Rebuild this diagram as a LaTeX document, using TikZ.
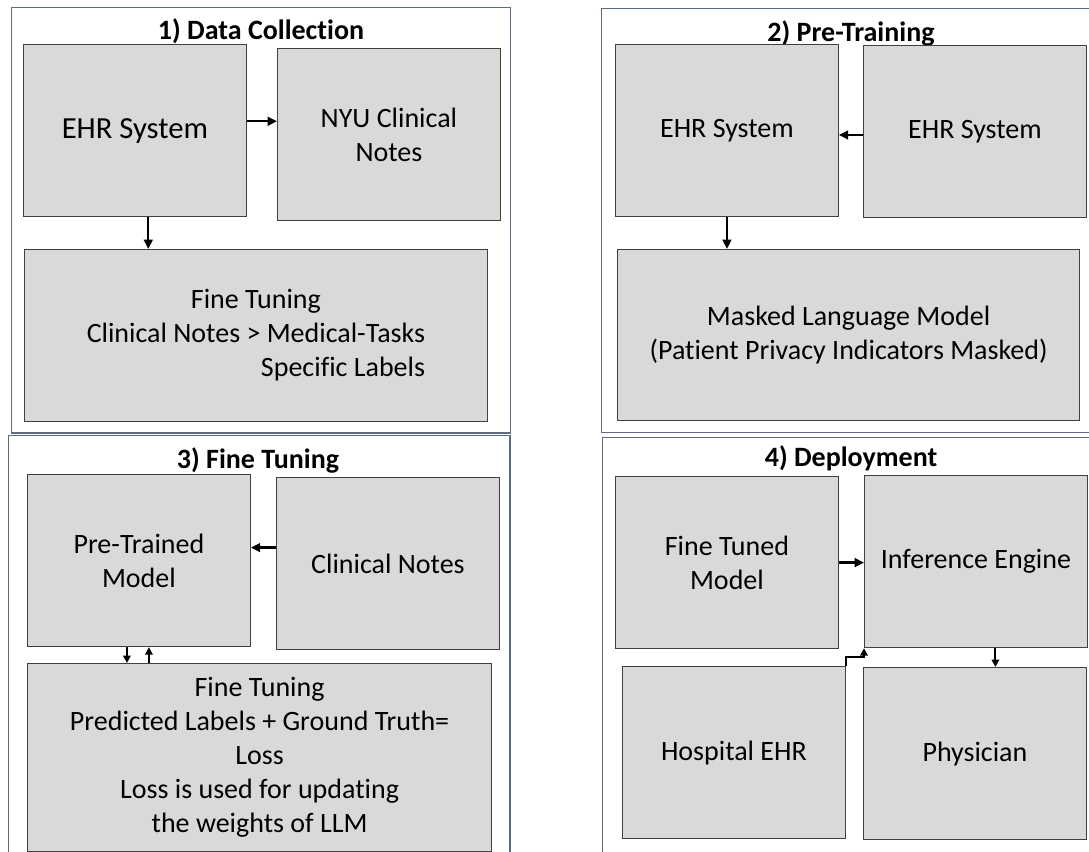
\documentclass[tikz,border=0pt]{standalone}
\usepackage{fontspec}
\setmainfont{Carlito}[Ligatures=NoCommon]
\usepackage{tikz}
\usetikzlibrary{arrows.meta,positioning}

\definecolor{framegray}{RGB}{92,106,132}
\definecolor{cellgray}{RGB}{217,217,217}
\definecolor{celledge}{RGB}{64,64,64}

\begin{document}
\begin{tikzpicture}[x=0.75pt, y=-0.75pt, every node/.style={align=center, font=\fontsize{21}{25.5}\selectfont}]
\tikzset{
  panel/.style={draw=framegray, line width=1.1pt, fill=white, anchor=north west, inner sep=0pt},
  paneltitle/.style={font=\fontsize{21}{25.5}\selectfont\bfseries, anchor=base, inner sep=0pt},
  cell/.style={draw=celledge, line width=0.9pt, fill=cellgray, anchor=north west, minimum width=167pt, minimum height=129pt, inner sep=2pt},
  widecell/.style={cell, minimum width=347pt},
  flow/.style={-{Triangle[length=7pt,width=6.5pt]}, line width=1.8pt, black},
  flowsmall/.style={-{Triangle[length=5.5pt,width=5.5pt]}, line width=1.6pt, black}
}
\useasboundingbox (0,0) rectangle (1089,852);
\fill[white] (0,0) rectangle (1089,852);
% panels
\node[panel, minimum width=374pt, minimum height=319pt] (p1) at (11,7) {};
\node[panel, minimum width=374pt, minimum height=318pt] (p2) at (601,8) {};
\node[panel, minimum width=376pt, minimum height=326pt] (p3) at (8,435) {};
\node[panel, minimum width=374pt, minimum height=325pt] (p4) at (602,437) {};
\node[paneltitle] (t1) at (261,40) {1) Data Collection};
\node[paneltitle] (t2) at (851,42) {2) Pre-Training};
\node[paneltitle] (t3) at (258,468) {3) Fine Tuning};
\node[paneltitle] (t4) at (851,466) {4) Deployment};

% 1) data collection
\node[cell, font=\fontsize{23}{27}\selectfont] (ehr1) at (23,44) {EHR System};
\node[cell] (nyu) at (277,48) {NYU Clinical\\Notes};
\node[widecell] (ft1) at (24,249) {Fine Tuning\\Clinical Notes > Medical-Tasks\\\hphantom{Clinical Notes > Medical-Tasks}\llap{Specific Labels}};
\draw[flow] ([yshift=7pt]ehr1.east) -- ([yshift=7pt]ehr1.east -| nyu.west);
\draw[flow] ([xshift=10pt]ehr1.south) -- ([xshift=10pt]ehr1.south |- ft1.north);

% 2) pre-training
\node[cell] (ehrL) at (615,44) {EHR System};
\node[cell] (ehrR) at (863,45) {EHR System};
\node[widecell, minimum width=346.5pt, minimum height=128pt] (mlm) at (617,249) {Masked Language Model\\(Patient Privacy Indicators Masked)};
\draw[flow] ([yshift=-2.5pt]ehrR.west) -- ([yshift=-2.5pt]ehrR.west -| ehrL.east);
\draw[flow] (ehrL.south) -- (ehrL.south |- mlm.north);

% 3) fine tuning
\node[cell] (ptm) at (27,474) {Pre-Trained\\Model};
\node[cell] (cn) at (276,477) {Clinical Notes};
\node[widecell, minimum width=348pt, minimum height=141pt] (ft3) at (27,663) {Fine Tuning\\Predicted Labels + Ground Truth=\\Loss\\Loss is used for updating\\the weights of LLM};
\draw[flow] ([yshift=12pt]cn.west) -- ([yshift=12pt]cn.west -| ptm.east);
\draw[flowsmall] ([xshift=-9pt]ptm.south) -- ([xshift=-9pt]ptm.south |- ft3.north);
\draw[flowsmall] ([xshift=7.5pt]ft3.north -| ptm.south) -- ([xshift=7.5pt]ptm.south);

% 4) deployment
\node[cell] (ftm) at (615,476) {Fine Tuned\\Model};
\node[cell] (ie) at (864,475) {Inference Engine};
\node[cell] (hosp) at (622,666) {Hospital EHR};
\node[cell] (phys) at (863,667) {Physician};
\draw[flow] (ftm.east) -- (ftm.east -| ie.west);
\draw[flowsmall] ([xshift=14.6pt]ie.south) -- ([xshift=14.6pt]ie.south |- phys.north);
\draw[flowsmall] (hosp.north east) -- ++(0,-9) -| (ie.south west);
\end{tikzpicture}
\end{document}
